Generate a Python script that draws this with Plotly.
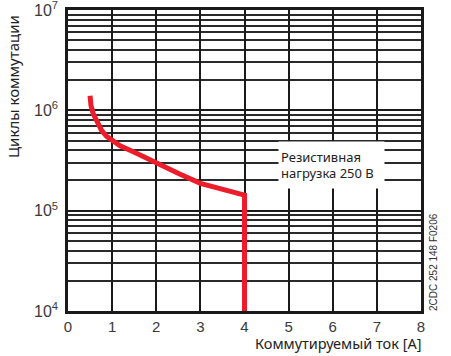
import plotly.graph_objects as go

current_a = [0.50, 0.52, 0.57, 0.65, 0.76, 0.875, 0.99, 1.18, 1.48, 2.0, 2.53, 3.0, 3.51, 4.0, 4.0]
cycles = [1.4e6, 1.12e6, 9.3e5, 7.66e5, 6.3e5, 5.5e5, 5.1e5, 4.43e5, 3.86e5, 2.96e5, 2.32e5, 1.87e5, 1.61e5, 1.43e5, 1e4]

x_ticks = [0, 1, 2, 3, 4, 5, 6, 7, 8]
y_ticks = [1e4, 1e5, 1e6, 1e7]
y_tick_text = ["10<sup>4</sup>", "10<sup>5</sup>", "10<sup>6</sup>", "10<sup>7</sup>"]
minor_y = [k * 10 ** e for e in (4, 5, 6) for k in range(2, 10)]

fig = go.Figure()
fig.add_trace(go.Scatter(
    x=current_a, y=cycles, mode="lines",
    line=dict(color="#ec1c2a", width=5),
    hoverinfo="skip", showlegend=False,
))

xtickfont = dict(family="Liberation Sans Narrow, Liberation Sans, sans-serif", size=15, color="#3a3a3a")
ytickfont = dict(family="Liberation Sans Narrow, Liberation Sans, sans-serif", size=16, color="#3a3a3a")

W, H = 451, 356
l, r, t, b = 68, 30, 10, 45

fig.update_layout(
    width=W, height=H,
    margin=dict(l=l, r=r, t=t, b=b, autoexpand=False),
    paper_bgcolor="white", plot_bgcolor="white",
    xaxis=dict(
        range=[0, 8], tickvals=x_ticks, showgrid=True, gridcolor="#1a1a1a", gridwidth=2.2,
        zeroline=False, showline=True, linecolor="#1a1a1a", linewidth=2.5, mirror=True,
        ticks="", tickfont=xtickfont, ticklabelstandoff=0, automargin=False,
        ticklabeloverflow="allow",
    ),
    yaxis=dict(
        type="log", range=[4, 7], tickvals=y_ticks, ticktext=y_tick_text,
        showgrid=True, gridcolor="#1a1a1a", gridwidth=2,
        zeroline=False, showline=True, linecolor="#1a1a1a", linewidth=2.5, mirror=True,
        ticks="", tickfont=ytickfont, ticklabelstandoff=4, automargin=False,
        ticklabeloverflow="allow",
        minor=dict(tickvals=minor_y, showgrid=True, gridcolor="#2a2a2a", gridwidth=1.6, ticks=""),
    ),
)

pw, ph = W - l - r, H - t - b
def px_to_paper(xp, yp):
    return (xp - l) / pw, (H - b - yp) / ph

ax, ay = px_to_paper(13, 87)
bx, by = px_to_paper(423, 343)
cx, cy = px_to_paper(433, 262)

fig.update_layout(annotations=[
    dict(text="Резистивная<br>нагрузка 250 В", x=5.98, y=5.455, xref="x", yref="y",
         xanchor="center", yanchor="middle",
         showarrow=False, align="left", bgcolor="white", width=101, height=42, borderpad=2,
         font=dict(family="Noto Sans, sans-serif", size=13, color="#222222")),
    dict(text="Циклы коммутации", x=ax, y=ay, xref="paper", yref="paper",
         xanchor="center", yanchor="middle",
         showarrow=False, textangle=-90,
         font=dict(family="Noto Sans, sans-serif", size=15, color="#222222")),
    dict(text="Коммутируемый ток [A]", x=bx, y=by, xref="paper", yref="paper",
         showarrow=False, xanchor="right", yanchor="middle", borderpad=0,
         font=dict(family="Noto Sans, sans-serif", size=14.5, color="#222222")),
    dict(text="2CDC 252 148 F0206", x=cx, y=cy, xref="paper", yref="paper",
         xanchor="center", yanchor="middle",
         showarrow=False, textangle=-90,
         font=dict(family="Liberation Sans, sans-serif", size=10, color="#333333")),
])

fig.write_html("out.html", config={"displayModeBar": False},
               post_script="document.body.style.margin='0';document.body.style.overflow='hidden';")
